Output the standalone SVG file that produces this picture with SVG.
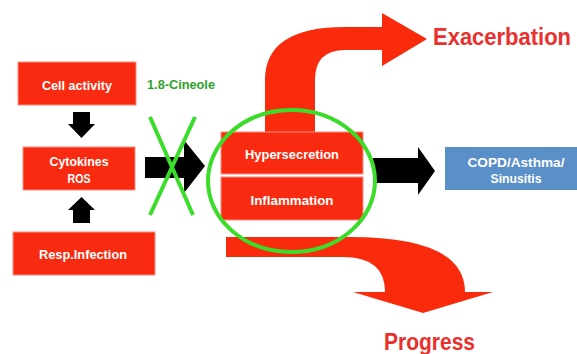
<svg xmlns="http://www.w3.org/2000/svg" width="577" height="354" viewBox="0 0 577 354">
<style>
.box{fill:#f82b10;stroke:#fb8d7e;stroke-width:1}
.bt{font-family:"Liberation Sans",Arial,sans-serif;font-weight:bold;font-size:13px;fill:#ffffff;text-anchor:middle}
.red{fill:#fa2a0c}
.blk{fill:#000000}
.big{font-family:"Liberation Sans",Arial,sans-serif;font-weight:bold;font-size:23px;fill:#e8302c}
.g{fill:none;stroke:#3bdc2a;stroke-width:4}
</style>
<rect width="577" height="354" fill="#ffffff"/>
<g id="connectors">
  <path id="arrow-exacerbation" class="red" d="M265,132 L265,80 Q265,27 345,27 L382,27 L382,13 L427,39 L382,66 L382,50 L345,50 Q315,50 315,80 L315,132 Z"/>
  <path id="arrow-progress" class="red" d="M226,237 L350,237 Q465,237 465,292 L493,292 L423,313 L353,292 L385,292 Q385,257 343,257 L226,257 Z"/>
  <path id="arrow-down" class="blk" d="M73,112 L90,112 L90,124 L95,124 L81.5,138 L68,124 L73,124 Z"/>
  <path id="arrow-up" class="blk" d="M81.5,197 L95,210 L90,210 L90,223 L73,223 L73,210 L68,210 Z"/>
  <path id="arrow-main" class="blk" d="M145,157 L184,157 L184,140 L205,166 L184,193 L184,178 L145,178 Z"/>
  <path id="arrow-right" class="blk" d="M373,158 L418,158 L418,147 L435,171 L418,195 L418,183 L373,183 Z"/>
</g>
<g id="cell-activity">
  <rect class="box" x="18" y="62" width="118" height="43"/>
  <text class="bt" x="77" y="90" textLength="70" lengthAdjust="spacingAndGlyphs">Cell activity</text>
</g>
<g id="cineole">
  <text x="147" y="89" font-family="Liberation Sans,Arial,sans-serif" font-weight="bold" font-size="13" fill="#2ea32a" textLength="68" lengthAdjust="spacingAndGlyphs">1.8-Cineole</text>
</g>
<g id="cytokines">
  <rect class="box" x="23" y="147" width="112" height="43"/>
  <text class="bt" x="79" y="166" textLength="59" lengthAdjust="spacingAndGlyphs">Cytokines</text>
  <text class="bt" x="79" y="183" textLength="23" lengthAdjust="spacingAndGlyphs">ROS</text>
</g>
<g id="resp-infection">
  <rect class="box" x="13" y="232" width="142" height="43"/>
  <text class="bt" x="83" y="259" textLength="88" lengthAdjust="spacingAndGlyphs">Resp.Infection</text>
</g>
<g id="hypersecretion">
  <rect class="box" x="221" y="132" width="142" height="42"/>
  <text class="bt" x="292" y="159" textLength="94" lengthAdjust="spacingAndGlyphs">Hypersecretion</text>
</g>
<g id="inflammation">
  <rect class="box" x="221" y="177" width="142" height="43"/>
  <text class="bt" x="292" y="205" textLength="83" lengthAdjust="spacingAndGlyphs">Inflammation</text>
</g>
<g id="copd">
  <rect x="445" y="147" width="132" height="43" fill="#5b8fc8"/>
  <text class="bt" x="516" y="167" textLength="97" lengthAdjust="spacingAndGlyphs">COPD/Asthma/</text>
  <text class="bt" x="516" y="183" textLength="51" lengthAdjust="spacingAndGlyphs">Sinusitis</text>
</g>
<g id="exacerbation">
  <text class="big" x="433" y="45" textLength="138" lengthAdjust="spacingAndGlyphs">Exacerbation</text>
</g>
<g id="progress">
  <text class="big" x="384" y="350" textLength="91" lengthAdjust="spacingAndGlyphs">Progress</text>
</g>
<g id="inhibition">
  <ellipse class="g" cx="291.5" cy="181" rx="83.5" ry="71"/>
  <line class="g" x1="150" y1="117" x2="193" y2="215"/>
  <line class="g" x1="195" y1="117" x2="150" y2="215"/>
</g>
</svg>
